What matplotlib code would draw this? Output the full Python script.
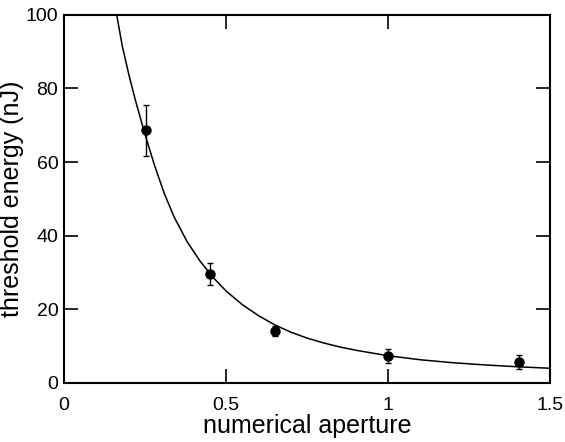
import matplotlib
matplotlib.use("Agg")
import matplotlib.pyplot as plt

# measured threshold energies with error bars
na_pts = [0.252, 0.451, 0.651, 1.0, 1.403]
energy_pts = [68.6, 29.6, 14.2, 7.3, 5.8]
energy_err = [6.9, 3.1, 1.4, 2.0, 1.9]

# fitted curve
na_fit = [0.163, 0.18, 0.2, 0.22, 0.25, 0.28, 0.31, 0.34, 0.38, 0.42, 0.46,
          0.5, 0.55, 0.6, 0.65, 0.7, 0.75, 0.8, 0.85, 0.9, 1.0, 1.1, 1.2,
          1.3, 1.4, 1.5]
energy_fit = [100, 91.6, 83.9, 77.0, 67.6, 59.0, 51.4, 45.1, 38.4, 33.1, 28.7,
              25.0, 21.3, 18.3, 15.8, 13.8, 12.2, 10.9, 9.8, 8.9, 7.4, 6.3, 5.5,
              4.9, 4.4, 4.0]

xticks = [0, 0.5, 1, 1.5]
xticklabels = ["0", "0.5", "1", "1.5"]
yticks = [0, 20, 40, 60, 80, 100]

plt.rcParams['font.family'] = ['Liberation Sans', 'DejaVu Sans']

fig = plt.figure(figsize=(5.65, 4.42), dpi=100)
ax = fig.add_axes([0.113, 0.1335, 0.861, 0.833])

ax.plot(na_fit, energy_fit, color='black', lw=1.1)
ax.errorbar(na_pts, energy_pts, yerr=energy_err, fmt='o', color='black',
            ms=6.5, capsize=2.5, elinewidth=1.0, capthick=1.0)

ax.set_xlim(0, 1.5)
ax.set_ylim(0, 100)
ax.set_xticks(xticks)
ax.set_xticklabels(xticklabels)
ax.set_yticks(yticks)
ax.tick_params(direction='in', length=10, width=1.2, top=True, right=True,
               labelsize=14)
ax.tick_params(axis='x', pad=10)
ax.tick_params(axis='y', pad=4)
for s in ax.spines.values():
    s.set_linewidth(1.5)

ax.set_xlabel("numerical aperture", fontsize=18, labelpad=0)
ax.set_ylabel("threshold energy (nJ)", fontsize=18, labelpad=1)

fig.savefig("out.png", dpi=100)
